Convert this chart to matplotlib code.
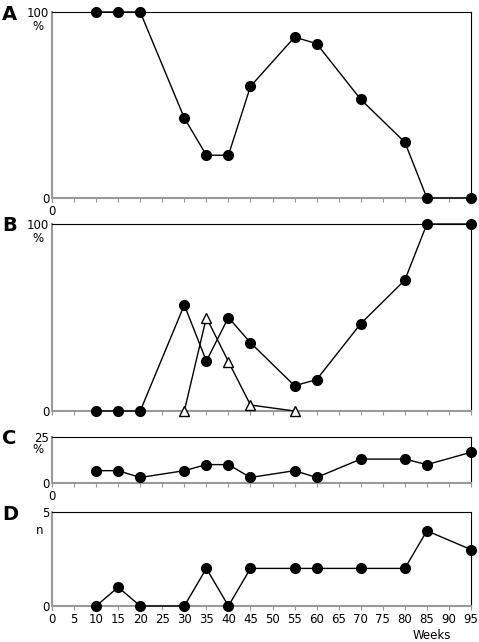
import matplotlib.pyplot as plt

weeks = [10, 15, 20, 30, 35, 40, 45, 55, 60, 70, 80, 85, 95]
a_pct = [100, 100, 100, 43, 23, 23, 60, 86.5, 83, 53, 30, 0, 0]
b_pct = [0, 0, 0, 56.7, 26.7, 50, 36.5, 13.5, 16.8, 46.7, 70, 100, 100]
b_tri_weeks = [30, 35, 40, 45, 55]
b_tri = [0, 50, 26.4, 3.2, 0]
c_pct = [6.7, 6.7, 3, 6.7, 10, 10, 3, 6.7, 3, 13, 13, 10, 16.7]
d_n = [0, 1, 0, 0, 2, 0, 2, 2, 2, 2, 2, 4, 3]

W, H = 479, 642
fig = plt.figure(figsize=(W / 100, H / 100), dpi=100)

# panel boxes in pixels: (top, bottom)
boxes = {"A": (12, 198), "B": (224, 411), "C": (437, 483), "D": (512, 606)}
x0, x1 = 52, 471


def make_ax(key):
    top, bot = boxes[key]
    ax = fig.add_axes([x0 / W, 1 - bot / H, (x1 - x0) / W, (bot - top) / H])
    ax.set_xlim(0, 95)
    for s in ["top", "right"]:
        ax.spines[s].set_color("black")
    for s in ["left", "bottom"]:
        ax.spines[s].set_color("#999999")
        ax.spines[s].set_linewidth(1.5)
    ax.set_xticks(range(0, 96, 5))
    ax.tick_params(axis="x", direction="out", length=3, color="#999999", labelsize=8.5, pad=2)
    ax.tick_params(axis="y", direction="in", length=3, color="#999999", labelsize=8.5, pad=2)
    fig.text(0.005, 1 - (top + 2) / H, key, fontsize=14, fontweight="bold", va="center")
    return ax


mk = dict(color="black", marker="o", markersize=7, linewidth=1, clip_on=False, zorder=3)

ax = make_ax("A")
ax.plot(weeks, a_pct, **mk)
ax.set_ylim(0, 100)
ax.set_yticks([0, 100])
ax.set_xticklabels([])
ax.text(-2, 92, "%", ha="right", va="center", fontsize=8.5)
ax.text(0, -4, "0", ha="center", va="top", fontsize=8.5)

ax = make_ax("B")
ax.plot(b_tri_weeks, b_tri, color="black", marker="^", markerfacecolor="white",
        markersize=7, linewidth=1, clip_on=False, zorder=4)
ax.plot(weeks, b_pct, **mk)
ax.set_ylim(0, 100)
ax.set_yticks([0, 100])
ax.set_xticklabels([])
ax.text(-2, 92, "%", ha="right", va="center", fontsize=8.5)

ax = make_ax("C")
ax.plot(weeks, c_pct, **mk)
ax.set_ylim(0, 25)
ax.set_yticks([0, 25])
ax.set_xticklabels([])
ax.text(-2, 18, "%", ha="right", va="center", fontsize=8.5)
ax.text(0, -4, "0", ha="center", va="top", fontsize=8.5)

ax = make_ax("D")
ax.plot(weeks, d_n, **mk)
ax.set_ylim(0, 5)
ax.set_yticks([0, 5])
ax.text(-2, 4.0, "n", ha="right", va="center", fontsize=8.5)
ax.text(86, -1.2, "Weeks", ha="center", va="top", fontsize=8.5)

fig.savefig("out.png", dpi=100)
